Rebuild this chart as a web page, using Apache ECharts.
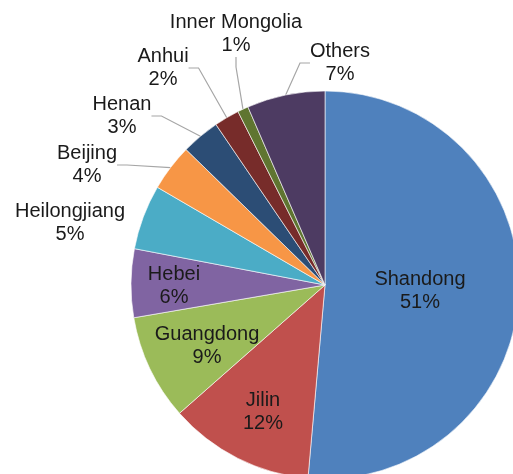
<!DOCTYPE html>
<html>
<head>
<meta charset="utf-8">
<script src="https://cdn.jsdelivr.net/npm/echarts@6/dist/echarts.min.js"></script>
<style>html,body{margin:0;padding:0;background:#fff;}#c{width:513px;height:474px;}</style>
</head>
<body>
<div id="c"></div>
<script>
var categories = ['Shandong','Jilin','Guangdong','Hebei','Heilongjiang','Beijing','Henan','Anhui','Inner Mongolia','Others'];
var values = [51.4, 12.1, 8.8, 5.7, 5.4, 3.9, 3.2, 2.1, 0.9, 6.5];
var colors = ['#4F81BD','#C0504D','#9BBB59','#8064A2','#4BACC6','#F79646','#2C4D75','#772C2A','#5F7530','#4D3B62'];
var insideSet = {'Shandong':1,'Jilin':1,'Guangdong':1,'Hebei':1};
// label centre positions (px)
var labelPos = {
  'Shandong':[420,291], 'Jilin':[263,412], 'Guangdong':[207,346], 'Hebei':[174,286],
  'Heilongjiang':[70,223], 'Beijing':[87,165], 'Henan':[122,116], 'Anhui':[163,68],
  'Inner Mongolia':[236,34], 'Others':[340,63]
};
var data = categories.map(function(n,i){
  var inside = !!insideSet[n];
  return {
    name:n, value:values[i],
    itemStyle:{color:colors[i]},
    label:{position: inside ? 'inside' : 'outside'},
    labelLine:{show: !inside && n!=='Heilongjiang'}
  };
});
var chart = echarts.init(document.getElementById('c'), null, {renderer:'canvas'});
chart.setOption({
  animation:false,
  series:[{
    type:'pie',
    center:[325,285],
    radius:194,
    startAngle:90,
    clockwise:true,
    percentPrecision:0,
    data:data,
    itemStyle:{borderColor:'#ffffff',borderWidth:0.6},
    label:{
      formatter:'{b}\n{d}%',
      fontFamily:'Liberation Sans, Arial, sans-serif',
      fontSize:20,
      lineHeight:23,
      color:'#1a1a1a',
      align:'center',
      overflow:'none',
      edgeDistance:0,
      bleedMargin:0
    },
    labelLine:{show:true,length:10,length2:10,lineStyle:{color:'#a6a6a6',width:1.2}},
    labelLayout:function(p){
      var n = categories[p.dataIndex];
      var pos = labelPos[n];
      return {x:pos[0], y:pos[1], align:'center', verticalAlign:'middle', moveOverlap:false};
    }
  }]
});
</script>
</body>
</html>
